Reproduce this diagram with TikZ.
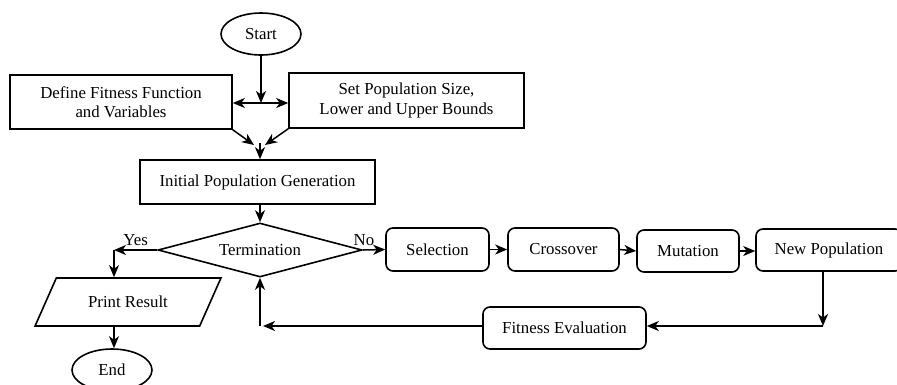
\documentclass[tikz,border=0pt]{standalone}
\usepackage{fontspec}
\setmainfont{Liberation Serif}
\usetikzlibrary{arrows.meta,shapes.geometric}
\begin{document}
\begin{tikzpicture}[x=1pt,y=-1pt,
  every node/.style={font=\fontsize{16.8}{19.5}\selectfont, inner sep=0pt, align=center},
  term/.style={draw, ellipse, line width=1.6pt, minimum width=80pt, minimum height=42pt},
  rect/.style={draw, rectangle, line width=1.6pt},
  rbox/.style={draw, rectangle, rounded corners=7pt, line width=1.6pt},
  dec/.style={draw, diamond, aspect=3.78, line width=1.6pt, minimum width=204pt, minimum height=54pt},
  io/.style={draw, trapezium, trapezium left angle=45, trapezium right angle=135, line width=1.6pt, minimum width=186pt, minimum height=48pt, trapezium stretches=true},
  arr/.style={line width=1.5pt, -{Stealth[length=12pt,width=10pt,inset=3.5pt]}},
  lbl/.style={font=\fontsize{16.8}{19.5}\selectfont}
]
\useasboundingbox (0,0) rectangle (897,384);

\node[term] (start) at (261,34) {Start};
\node[rect, minimum width=222pt, minimum height=54pt] (def) at (121,102) {Define Fitness Function\\and Variables};
\node[rect, minimum width=235pt, minimum height=55pt] (set) at (406.5,100.5) {Set Population Size,\\Lower and Upper Bounds};
\node[rect, minimum width=235pt, minimum height=44pt] (init) at (257.5,182) {Initial Population Generation};
\node[dec] (term) at (260,250) {Termination};
\node[io] (print) at (128,302) {Print Result};
\node[term] (end) at (112,370) {End};

\node[rbox, minimum width=103pt, minimum height=43pt] (sel) at (437.5,249.5) {Selection};
\node[rbox, minimum width=111pt, minimum height=43pt] (cross) at (563.5,249.5) {Crossover};
\node[rbox, minimum width=102pt, minimum height=42pt] (mut) at (688,251) {Mutation};
\node[rbox, minimum width=146pt, minimum height=42pt] (newp) at (829,250) {New Population};
\node[rbox, minimum width=163pt, minimum height=42pt] (fit) at (564.5,328) {Fitness Evaluation};

\coordinate (split) at (261,103);
\coordinate (merge) at (260,143);
\coordinate (yes) at (114,250);
\coordinate (dn) at (823,326);
\coordinate (up) at (260,326);

% start to split
\draw[arr] (start.south) -- (split);
\draw[arr] (split) -- (split -| def.east);
\draw[arr] (split) -- (split -| set.west);
\draw[arr] (def.south east) -- ([xshift=-6pt,yshift=-2pt]merge);
\draw[arr] (set.south west) -- ([xshift=5pt,yshift=-2pt]merge);
\draw[arr] (merge) -- (init.north -| merge);
\draw[arr] (init.south -| term.north) -- (term.north);

% Yes branch
\draw[arr] (term.west) -- (yes) node[lbl, pos=0.5, above=4pt] {Yes};
\draw[arr] (yes) -- (yes |- print.north);
\draw[arr] (print.south -| yes) -- (end.north -| yes);

% No branch
\draw[arr] (term.east) -- (sel.west) node[lbl, pos=0.05, above=4pt] {No};
\draw[arr] (sel.east) -- (cross.west);
\draw[arr] (cross.east) -- (mut.west);
\draw[arr] (mut.east) -- (newp.west |- mut.east);
\draw[arr] (newp.south -| dn) -- (dn);
\draw[arr] (dn) -- (dn -| fit.east);
\draw[arr] (fit.west |- up) -- ([xshift=3pt]up);
\draw[arr] (up) -- (term.south);
\end{tikzpicture}
\end{document}
